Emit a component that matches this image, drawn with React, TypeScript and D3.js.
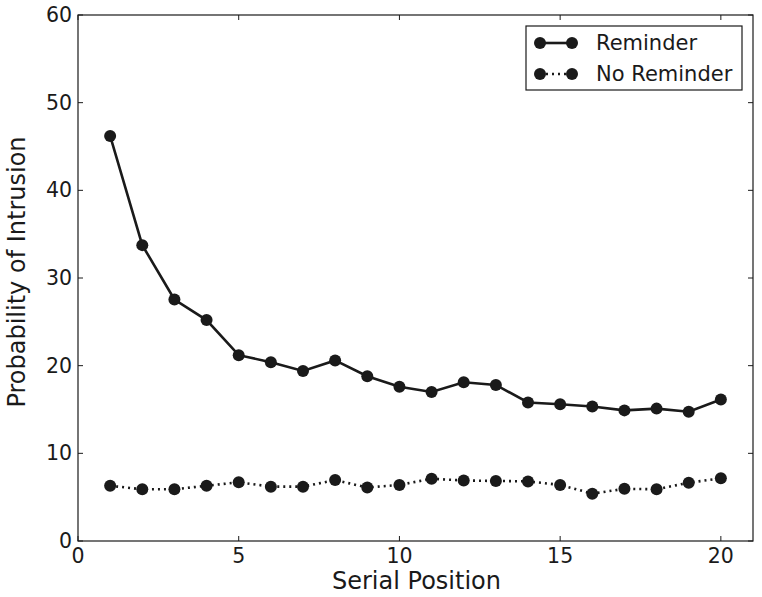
import React, { useEffect, useRef } from 'react';
import * as d3 from 'd3';

// ====

const positions = d3.range(1, 21);
const reminder = [46.2, 33.75, 27.55, 25.2, 21.2, 20.4, 19.4, 20.6, 18.8, 17.6, 17.0, 18.1, 17.8, 15.8, 15.6, 15.35, 14.9, 15.1, 14.75, 16.15];
const noReminder = [6.3, 5.9, 5.9, 6.3, 6.7, 6.2, 6.2, 6.95, 6.1, 6.4, 7.1, 6.9, 6.85, 6.8, 6.4, 5.4, 5.95, 5.9, 6.65, 7.15];
const xTicks = [0, 5, 10, 15, 20];
const yTicks = [0, 10, 20, 30, 40, 50, 60];
const seriesNames = ['Reminder', 'No Reminder'];

const W = 762;
const H = 597;
const margin = { left: 78, right: 9, top: 15, bottom: 56 };
const ink = '#1a1a1a';
const font = 'DejaVu Sans';

// ====

export default function App() {
    const node = useRef<SVGSVGElement | null>(null);

    useEffect(() => {
        const svg = d3.select(node.current);
        svg.selectAll('*').remove();

        const x = d3.scaleLinear().domain([0, 21]).range([margin.left, W - margin.right]);
        const y = d3.scaleLinear().domain([0, 60]).range([H - margin.bottom, margin.top]);
        const x0 = x(0), x1 = x(21), y0 = y(0), y1 = y(60);

        const g = svg.append('g');

        // ticks on all four sides, pointing inward
        xTicks.forEach((t) => {
            g.append('line').attr('x1', x(t)).attr('x2', x(t)).attr('y1', y0).attr('y2', y0 - 5).attr('stroke', ink);
            g.append('line').attr('x1', x(t)).attr('x2', x(t)).attr('y1', y1).attr('y2', y1 + 5).attr('stroke', ink);
            g.append('text').attr('x', x(t)).attr('y', y0 + 22).attr('text-anchor', 'middle')
                .attr('font-family', font).attr('font-size', 20.5).attr('fill', ink).text(t);
        });
        yTicks.forEach((t) => {
            g.append('line').attr('x1', x0).attr('x2', x0 + 5).attr('y1', y(t)).attr('y2', y(t)).attr('stroke', ink);
            g.append('line').attr('x1', x1).attr('x2', x1 - 5).attr('y1', y(t)).attr('y2', y(t)).attr('stroke', ink);
            g.append('text').attr('x', x0 - 6).attr('y', y(t) + 7).attr('text-anchor', 'end')
                .attr('font-family', font).attr('font-size', 20.5).attr('fill', ink).text(t);
        });

        g.append('rect').attr('x', x0).attr('y', y1).attr('width', x1 - x0).attr('height', y0 - y1)
            .attr('fill', 'none').attr('stroke', ink).attr('stroke-width', 1.2);

        g.append('text').attr('x', (x0 + x1) / 2 + 1).attr('y', H - 8).attr('text-anchor', 'middle')
            .attr('font-family', font).attr('font-size', 24).attr('fill', ink).text('Serial Position');
        g.append('text').attr('transform', `translate(25,272) rotate(-90)`).attr('text-anchor', 'middle')
            .attr('font-family', font).attr('font-size', 24).attr('fill', ink).text('Probability of Intrusion');

        const line = d3.line<number>().x((d, i) => x(positions[i])).y((d) => y(d));
        const series = [
            { values: reminder, dash: null },
            { values: noReminder, dash: '2,4' },
        ];

        series.forEach((s) => {
            g.append('path').attr('d', line(s.values)).attr('fill', 'none').attr('stroke', ink)
                .attr('stroke-width', 2.6).attr('stroke-dasharray', s.dash);
            g.selectAll(null).data(s.values).enter().append('circle')
                .attr('cx', (d, i) => x(positions[i])).attr('cy', (d) => y(d)).attr('r', 6).attr('fill', ink);
        });

        // legend
        const lg = g.append('g');
        lg.append('rect').attr('x', 526).attr('y', 26).attr('width', 216).attr('height', 64)
            .attr('fill', 'white').attr('stroke', ink).attr('stroke-width', 1.2);
        series.forEach((s, i) => {
            const ly = 43 + i * 31;
            lg.append('line').attr('x1', 540).attr('x2', 572).attr('y1', ly).attr('y2', ly)
                .attr('stroke', ink).attr('stroke-width', 2.6).attr('stroke-dasharray', s.dash);
            lg.append('circle').attr('cx', 540).attr('cy', ly).attr('r', 6).attr('fill', ink);
            lg.append('circle').attr('cx', 572).attr('cy', ly).attr('r', 6).attr('fill', ink);
            lg.append('text').attr('x', 596).attr('y', ly + 7).attr('font-family', font).attr('font-size', 21)
                .attr('fill', ink).text(seriesNames[i]);
        });
    }, []);

    return (
        <svg ref={node} width={W} height={H} style={{ position: 'absolute', left: 0, top: 0 }}></svg>
    );
}
